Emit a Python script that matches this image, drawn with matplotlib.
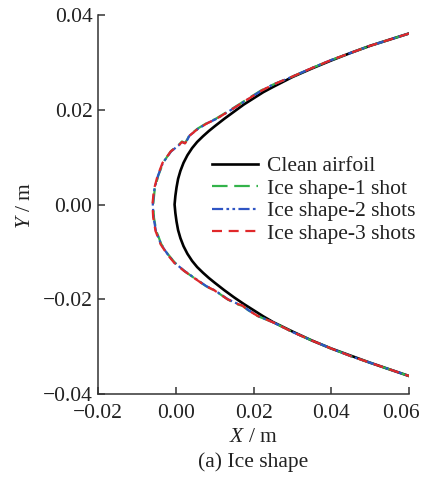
import matplotlib
matplotlib.use("Agg")
import matplotlib.pyplot as plt
from matplotlib.transforms import ScaledTranslation

plt.rcParams['font.family'] = ['Liberation Serif', 'DejaVu Serif']
plt.rcParams['mathtext.fontset'] = 'custom'
plt.rcParams['mathtext.rm'] = 'Liberation Serif'
plt.rcParams['mathtext.it'] = 'Liberation Serif:italic'

# ---- data ----
clean_x = [0.0600, 0.0550, 0.0500, 0.0450, 0.0400, 0.0350, 0.0300, 0.0250, 0.0225,
           0.0200, 0.0175, 0.0150, 0.0125, 0.0100, 0.0085, 0.0070, 0.0055, 0.0042,
           0.0030, 0.0020, 0.0012, 0.0006, 0.0002, -0.0001, -0.0003,
           -0.0001, 0.0002, 0.0006, 0.0012, 0.0020, 0.0030, 0.0042, 0.0055, 0.0070,
           0.0085, 0.0100, 0.0125, 0.0150, 0.0175, 0.0200, 0.0225, 0.0250, 0.0300,
           0.0350, 0.0400, 0.0450, 0.0500, 0.0550, 0.0600]
clean_y = [0.0361, 0.0348, 0.0335, 0.0320, 0.0304, 0.0287, 0.0269, 0.0248, 0.0237,
           0.0224, 0.0211, 0.0196, 0.0181, 0.0165, 0.0155, 0.0144, 0.0132, 0.0119,
           0.0104, 0.0088, 0.0071, 0.0054, 0.0036, 0.0018, 0.0000,
           -0.0018, -0.0036, -0.0054, -0.0071, -0.0088, -0.0104, -0.0119, -0.0132, -0.0144,
           -0.0155, -0.0165, -0.0181, -0.0196, -0.0210, -0.0223, -0.0236, -0.0248, -0.0268,
           -0.0287, -0.0304, -0.0319, -0.0334, -0.0348, -0.0362]

ice1_x = [0.0600, 0.0550, 0.0500, 0.0450, 0.0400, 0.0350, 0.0300, 0.0250, 0.0220,
          0.0185, 0.0143, 0.0103, 0.0082, 0.0056, 0.0035, 0.0030, 0.0024, 0.0016,
          0.0009, -0.0012, -0.0032, -0.0045, -0.0054, -0.0058,
          -0.0056, -0.0050, -0.0037, -0.0020, -0.0002, 0.0023, 0.0049, 0.0079,
          0.0101, 0.0135, 0.0160, 0.0172, 0.0186, 0.0212, 0.0254, 0.0300, 0.0350,
          0.0400, 0.0450, 0.0500, 0.0550, 0.0600]
ice1_y = [0.0361, 0.0348, 0.0335, 0.0320, 0.0305, 0.0288, 0.0270, 0.0253, 0.0241,
          0.0223, 0.0201, 0.0181, 0.0173, 0.0160, 0.0146, 0.0138, 0.0130, 0.0133,
          0.0127, 0.0113, 0.0089, 0.0061, 0.0033, 0.0000,
          -0.0028, -0.0056, -0.0084, -0.0105, -0.0123, -0.0141, -0.0156, -0.0173,
          -0.0182, -0.0201, -0.0211, -0.0214, -0.0223, -0.0236, -0.0250, -0.0269, -0.0287,
          -0.0304, -0.0320, -0.0334, -0.0348, -0.0362]

ice2_x = [0.0600, 0.0550, 0.0500, 0.0450, 0.0400, 0.0350, 0.0300, 0.0250, 0.0220,
          0.0185, 0.0143, 0.0103, 0.0082, 0.0056, 0.0035, 0.0030, 0.0024, 0.0016,
          0.0009, -0.0012, -0.0033, -0.0046, -0.0055, -0.0059,
          -0.0057, -0.0051, -0.0038, -0.0021, -0.0003, 0.0022, 0.0048, 0.0078,
          0.0100, 0.0134, 0.0160, 0.0172, 0.0185, 0.0211, 0.0254, 0.0300, 0.0350,
          0.0400, 0.0450, 0.0500, 0.0550, 0.0600]
ice2_y = [0.0361, 0.0348, 0.0335, 0.0320, 0.0305, 0.0288, 0.0270, 0.0253, 0.0240,
          0.0222, 0.0200, 0.0180, 0.0172, 0.0159, 0.0145, 0.0137, 0.0129, 0.0132,
          0.0126, 0.0112, 0.0088, 0.0060, 0.0032, 0.0000,
          -0.0028, -0.0056, -0.0084, -0.0105, -0.0123, -0.0140, -0.0155, -0.0172,
          -0.0181, -0.0200, -0.0210, -0.0213, -0.0222, -0.0235, -0.0250, -0.0269, -0.0287,
          -0.0304, -0.0320, -0.0334, -0.0348, -0.0362]

ice3_x = [0.0600, 0.0550, 0.0500, 0.0450, 0.0400, 0.0350, 0.0300, 0.0250, 0.0220,
          0.0185, 0.0143, 0.0103, 0.0082, 0.0056, 0.0035, 0.0030, 0.0024, 0.0016,
          0.0009, -0.0013, -0.0034, -0.0047, -0.0056, -0.0060,
          -0.0058, -0.0052, -0.0039, -0.0022, -0.0004, 0.0021, 0.0047, 0.0077,
          0.0099, 0.0133, 0.0159, 0.0171, 0.0184, 0.0210, 0.0254, 0.0300, 0.0350,
          0.0400, 0.0450, 0.0500, 0.0550, 0.0600]
ice3_y = [0.0361, 0.0348, 0.0335, 0.0320, 0.0305, 0.0288, 0.0270, 0.0253, 0.0240,
          0.0222, 0.0200, 0.0180, 0.0172, 0.0159, 0.0145, 0.0137, 0.0129, 0.0132,
          0.0126, 0.0112, 0.0088, 0.0060, 0.0032, 0.0000,
          -0.0028, -0.0056, -0.0084, -0.0105, -0.0123, -0.0140, -0.0155, -0.0172,
          -0.0181, -0.0200, -0.0210, -0.0213, -0.0222, -0.0235, -0.0250, -0.0269, -0.0287,
          -0.0304, -0.0320, -0.0334, -0.0348, -0.0362]

labels = ["Clean airfoil", "Ice shape-1 shot", "Ice shape-2 shots", "Ice shape-3 shots"]
xticks = [-0.02, 0.00, 0.02, 0.04, 0.06]
xticklabels = ["\u22120.02", "0.00", "0.02", "0.04", "0.06"]
yticks = [-0.04, -0.02, 0.00, 0.02, 0.04]
yticklabels = ["\u22120.04", "\u22120.02", "0.00", "0.02", "0.04"]

FS = 15.5

# ---- figure ----
fig = plt.figure(figsize=(4.24, 4.8), dpi=100)
ax = fig.add_axes([98/424, 1-394/480, (409-98)/424, (394-15)/480])

l0, = ax.plot(clean_x, clean_y, color='black', lw=1.9, label=labels[0], zorder=2)
l1, = ax.plot(ice1_x, ice1_y, color='#33b34a', lw=1.6, dashes=(7, 3), label=labels[1], zorder=3)
l2, = ax.plot(ice2_x, ice2_y, color='#2f55c4', lw=1.6, dashes=(5, 1.5, 1.2, 1.5, 1.2, 1.5),
              label=labels[2], zorder=4)
l3, = ax.plot(ice3_x, ice3_y, color='#e0282a', lw=1.6, dashes=(4.5, 3), label=labels[3], zorder=5)

ax.set_xlim(-0.02, 0.06)
ax.set_ylim(-0.04, 0.04)
ax.set_xticks(xticks)
ax.set_xticklabels(xticklabels)
ax.set_yticks(yticks)
ax.set_yticklabels(yticklabels)

for s in ['top', 'right']:
    ax.spines[s].set_visible(False)
for s in ['left', 'bottom']:
    ax.spines[s].set_linewidth(1.1)
    ax.spines[s].set_color('#333333')
ax.tick_params(direction='in', length=5, width=1.1, color='#333333',
               labelsize=FS, labelcolor='#222222')
ax.tick_params(axis='y', pad=4)
ax.tick_params(axis='x', pad=7)

# last x tick label sits slightly left of its tick so it stays inside the figure
last = ax.get_xticklabels()[-1]
last.set_transform(last.get_transform() + ScaledTranslation(-0.08, 0, fig.dpi_scale_trans))

fig.text(26/424, 1-205/480, "$Y$ / m", rotation=90, ha='center', va='center',
         fontsize=FS, color='#222222')
fig.text(253/424, 1-438/480, "$X$ / m", ha='center', va='center',
         fontsize=FS, color='#222222')
fig.text(253/424, 1-462/480, "(a) Ice shape", ha='center', va='center',
         fontsize=FS, color='#222222')

leg = ax.legend(handles=[l0, l1, l2, l3], loc='upper left',
                bbox_to_anchor=(212/424, 1-156/480), bbox_transform=fig.transFigure,
                frameon=False, fontsize=FS, handlelength=2.15, handletextpad=0.4,
                labelspacing=0.12, borderpad=0, borderaxespad=0)
for t in leg.get_texts():
    t.set_color('#222222')

fig.savefig("out.png", dpi=100)
